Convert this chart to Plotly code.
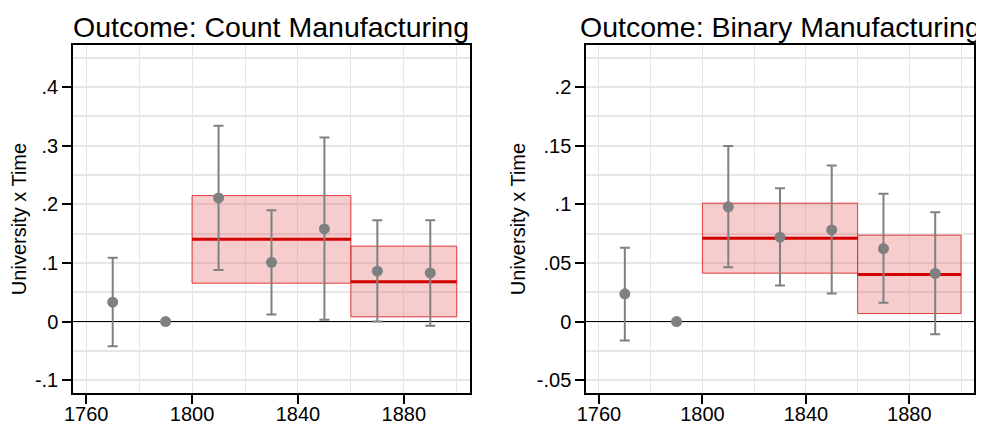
import plotly.graph_objects as go

# ---------------- data ----------------
years = [1770, 1790, 1810, 1830, 1850, 1870, 1890]

count_est = [0.033, 0.0, 0.211, 0.101, 0.158, 0.086, 0.083]
count_lo = [-0.042, 0.0, 0.088, 0.012, 0.003, 0.000, -0.007]
count_hi = [0.109, 0.0, 0.334, 0.190, 0.314, 0.173, 0.173]

binary_est = [0.0236, 0.0, 0.0979, 0.072, 0.0782, 0.0623, 0.041]
binary_lo = [-0.0162, 0.0, 0.0464, 0.0307, 0.0239, 0.016, -0.0108]
binary_hi = [0.0629, 0.0, 0.1497, 0.1138, 0.1331, 0.109, 0.0933]

# pooled period estimates (start, end, estimate, lower, upper)
period_start = [1800, 1860]
period_end = [1860, 1900]
count_period_est = [0.1406, 0.068]
count_period_lo = [0.0655, 0.008]
count_period_hi = [0.215, 0.1287]
binary_period_est = [0.0711, 0.0401]
binary_period_lo = [0.0413, 0.0068]
binary_period_hi = [0.101, 0.0737]

titles = ["Outcome: Count Manufacturing", "Outcome: Binary Manufacturing"]
x_tickvals = [1760, 1800, 1840, 1880]
count_tickvals = [-0.1, 0, 0.1, 0.2, 0.3, 0.4]
count_ticktext = ["-.1", "0", ".1", ".2", ".3", ".4"]
binary_tickvals = [-0.05, 0, 0.05, 0.1, 0.15, 0.2]
binary_ticktext = ["-.05", "0", ".05", ".1", ".15", ".2"]
y_title = "University x Time"

# ---------------- style ----------------
FONT = "Liberation Sans, Arial, Helvetica, sans-serif"
GRAY = "#808080"
FILL = "rgba(228, 100, 104, 0.33)"
EDGE = "#e03a3a"
RED = "#d40000"
GRID = "#e6e6e6"

fig = go.Figure()

panels = [
    ("x", "y", count_est, count_lo, count_hi, count_period_est, count_period_lo, count_period_hi),
    ("x2", "y2", binary_est, binary_lo, binary_hi, binary_period_est, binary_period_lo, binary_period_hi),
]

for xa, ya, est, lo, hi, pest, plo, phi in panels:
    # period boxes
    for s, e, l, h in zip(period_start, period_end, plo, phi):
        fig.add_trace(go.Scatter(
            x=[s, e, e, s, s], y=[l, l, h, h, l], mode="lines", fill="toself",
            fillcolor=FILL, line=dict(color=EDGE, width=1),
            xaxis=xa, yaxis=ya, showlegend=False, hoverinfo="skip"))
    for s, e, m in zip(period_start, period_end, pest):
        fig.add_trace(go.Scatter(
            x=[s, e], y=[m, m], mode="lines", line=dict(color=RED, width=3),
            xaxis=xa, yaxis=ya, showlegend=False, hoverinfo="skip"))
    # point estimates with CIs
    fig.add_trace(go.Scatter(
        x=years, y=est, mode="markers",
        marker=dict(color=GRAY, size=11),
        error_y=dict(type="data", symmetric=False,
                     array=[h - v for h, v in zip(hi, est)],
                     arrayminus=[v - l for v, l in zip(est, lo)],
                     color=GRAY, thickness=2, width=5),
        xaxis=xa, yaxis=ya, showlegend=False))

common_x = dict(
    range=[1755, 1905], tickvals=x_tickvals, ticks="outside", ticklen=9,
    tickwidth=1.5, tickcolor="black", showline=True, linecolor="black",
    linewidth=1.5, mirror=True, showgrid=True, gridcolor=GRID, gridwidth=1,
    minor=dict(dtick=20, tick0=1760, showgrid=True, gridcolor=GRID, gridwidth=1),
    zeroline=False, tickfont=dict(size=20, color="black"), automargin=False,
    ticklabelstandoff=-7,
)
common_y = dict(
    ticks="outside", ticklen=9, tickwidth=1.5, tickcolor="black",
    showline=True, linecolor="black", linewidth=1.5, mirror=True,
    showgrid=True, gridcolor=GRID, gridwidth=1.5,
    zeroline=True, zerolinecolor="black", zerolinewidth=1,
    tickfont=dict(size=20, color="black"), automargin=False,
    title=dict(text=y_title, font=dict(size=20, color="black"), standoff=6),
)

fig.update_layout(
    width=976, height=416,
    margin=dict(l=65, r=10, t=37, b=31),
    paper_bgcolor="white", plot_bgcolor="white",
    font=dict(family=FONT, color="black"),
    xaxis=dict(domain=[0, 0.4406], anchor="y", **common_x),
    xaxis2=dict(domain=[0.5694, 1.0], anchor="y2", **common_x),
    yaxis=dict(domain=[0, 1], anchor="x", range=[-0.122, 0.472],
               tickvals=count_tickvals, ticktext=count_ticktext,
               minor=dict(dtick=0.05, tick0=0, showgrid=True, gridcolor=GRID, gridwidth=1.5),
               **common_y),
    yaxis2=dict(domain=[0, 1], anchor="x2", range=[-0.061, 0.236],
                tickvals=binary_tickvals, ticktext=binary_ticktext,
                minor=dict(dtick=0.025, tick0=0, showgrid=True, gridcolor=GRID, gridwidth=1.5),
                **common_y),
)

for t, xd in zip(titles, ["x domain", "x2 domain"]):
    fig.add_annotation(text=t, xref=xd, yref="paper", x=0.5, y=1, yanchor="bottom",
                       yshift=0, showarrow=False, font=dict(size=28.5, color="black"))

fig.write_html("out.html")
